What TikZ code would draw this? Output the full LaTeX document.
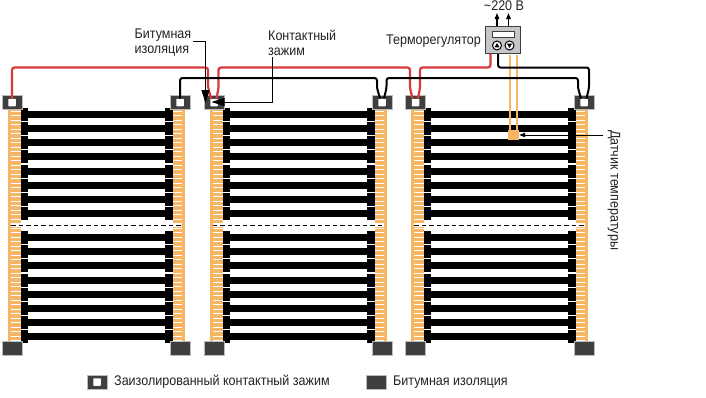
\documentclass[tikz,border=0pt]{standalone}
\usepackage{fontspec}
\setmainfont[FakeStretch=0.895]{Liberation Sans}
\usetikzlibrary{arrows.meta}
\definecolor{stripc}{HTML}{F6B663}
\definecolor{redw}{HTML}{D8393C}
\definecolor{darkc}{HTML}{3F3F3F}
\definecolor{edgec}{HTML}{BDBDBD}
\definecolor{txt}{HTML}{222222}
\tikzset{
  conn/.style={draw=edgec,line width=.7pt,fill=darkc,minimum width=20pt,minimum height=14pt,inner sep=0pt,outer sep=0pt},
  hole/.style={fill=white,draw=none,minimum width=7.5pt,minimum height=7.5pt,inner sep=0pt,outer sep=0pt,rounded corners=.6pt},
  redwire/.style={draw=redw,line width=2.2pt,rounded corners=2.5pt},
  blackwire/.style={draw=black,line width=2pt,rounded corners=2.5pt},
  leader/.style={draw=black,line width=1pt},
  lab/.style={text=txt,font=\fontsize{14}{15}\selectfont,inner sep=0pt,align=left},
  sensorline/.style={draw=stripc,line width=2pt},
  bigtip/.style={-{Triangle[length=13pt,width=8pt]}},
  smalltip/.style={-{Triangle[length=6pt,width=4.5pt]}},
}
\begin{document}
\begin{tikzpicture}[x=1pt,y=-1pt]
\useasboundingbox (0,0) rectangle (706,397);
% heating panels
\foreach \off in {0,201.5,403}{
  \begin{scope}[xshift=\off pt]
    \foreach \yy in {111,125.1,139.3,153.4,167.6,181.7,195.9,210,234,248.2,262.4,276.6,290.8,305,319.1,333.3}{
      \fill[black] (21,\yy) rectangle (170,\yy+7);
      \fill[black] (21,\yy-3) rectangle (28,\yy+10);
      \fill[black] (165,\yy-3) rectangle (173,\yy+10);
    }
    \fill[stripc] (8,108) rectangle (21,342);
    \fill[stripc] (173,108) rectangle (185,342);
    \foreach \n in {0,...,51}{
      \draw[white,line width=1pt] (11,111+\n*4.5) -- (21,111+\n*4.5);
      \draw[white,line width=1pt] (173,111+\n*4.5) -- (182,111+\n*4.5);
    }
    \fill[white] (11,223) rectangle (21,227);
    \fill[white] (173,223) rectangle (182,227);
    \draw[black,line width=.8pt,dash pattern=on 4.5pt off 3pt] (11,225) -- (183,225);
  \end{scope}
}
% connector blocks, top row
\node[conn] (ta) at (12.3,102.5) {};
\node[conn] (tb) at (180.5,102.5) {};
\node[conn] (tc) at (214,102.5) {};
\node[conn] (td) at (382,102.5) {};
\node[conn] (te) at (415.5,102.5) {};
\node[conn] (tf) at (584,102.5) {};
\node[hole] (ha) at (12,102.5) {};
\node[hole] (hb) at (180,102.5) {};
\node[hole] (hc) at (214,102.5) {};
\node[hole] (hd) at (382,102.5) {};
\node[hole] (he) at (415.5,102.5) {};
\node[hole] (hf) at (584,102.5) {};
% connector blocks, bottom row
\node[conn] (ba) at (12.3,348) {};
\node[conn] (bb) at (180.5,348) {};
\node[conn] (bc) at (214,348) {};
\node[conn] (bd) at (382,348) {};
\node[conn] (be) at (415.5,348) {};
\node[conn] (bf) at (584,348) {};
% thermostat
\node[draw=darkc,line width=1.2pt,fill=gray!45,minimum width=35pt,minimum height=27.5pt,inner sep=0pt] (th) at (503,40) {};
\node[draw=darkc,line width=1pt,fill=white,minimum width=22pt,minimum height=6pt,inner sep=0pt] (disp) at (503.5,34) {};
\node[draw=black,line width=1pt,fill=white,circle,minimum size=9pt,inner sep=0pt] (bu) at (497,45.5) {};
\node[draw=black,line width=1pt,fill=white,circle,minimum size=9pt,inner sep=0pt] (bv) at (509.5,45.5) {};
\fill[black] (494.5,47.3) -- (499.5,47.3) -- (497,43) -- cycle;
\fill[black] (507,43.7) -- (512,43.7) -- (509.5,48) -- cycle;
% sensor
\coordinate (s1t) at (510,54.6);
\coordinate (s2t) at (517.3,54.6);
\coordinate (s1b) at (510,130);
\coordinate (s2b) at (517.3,130);
\draw[sensorline] (s1t) -- (s1b);
\draw[sensorline] (s2t) -- (s2b);
\node[fill=stripc,minimum width=11pt,minimum height=10pt,inner sep=0pt] (sens) at (513.5,135) {};
% wires
\coordinate (outa) at (497,26);
\coordinate (outb) at (508.5,26);
\coordinate (outat) at (497,13);
\coordinate (outbt) at (508.5,13);
\draw[black,line width=1.2pt,smalltip] (outa) -- (outat);
\draw[black,line width=1.2pt,smalltip] (outb) -- (outbt);
\draw[redwire] (12,98.5) -- (12,67.5) -- (208,67.5) -- (208,87) -- (211,98.5);
\draw[redwire] (216.5,98.5) -- (218.5,88) -- (218.5,67.5) -- (410,67.5) -- (410,88) -- (412.5,98.5);
\draw[redwire] (418,98.5) -- (420,88) -- (420,67.5) -- (490.5,67.5) -- (490.5,54);
\draw[blackwire] (180,98.5) -- (180,78) -- (377,78) -- (377,88) -- (380,98.5);
\draw[blackwire] (384,98.5) -- (386.5,88) -- (386.5,78) -- (578,78) -- (578,88) -- (581,98.5);
\draw[blackwire] (498,54) -- (498,67.5) -- (589,67.5) -- (589,88) -- (586.5,98.5);
% leaders
\coordinate (l1) at (193,41);
\coordinate (l2) at (205.5,41);
\coordinate (l3) at (205.5,103);
\draw[leader,bigtip] (l1) -- (l2) -- (l3);
\coordinate (k1) at (272,57);
\coordinate (k2) at (272,102);
\coordinate (k3) at (211.5,102);
\draw[leader,bigtip] (k1) -- (k2) -- (k3);
\coordinate (d1) at (603,135);
\draw[leader,smalltip] (d1) -- (sens.east);
% labels
\node[lab,anchor=west] (t1) at (134.5,43) {Битумная\\изоляция};
\node[lab,anchor=west] (t2) at (268,42.5) {Контактный\\зажим};
\node[lab,anchor=west] (t3) at (386,41) {Терморегулятор};
\node[lab,anchor=base] (t4) at (504,10) {\char"7E 220 В};
\node[lab,anchor=center,rotate=-90] (t5) at (614,190) {Датчик температуры};
% legend
\node[conn] (la) at (97,382) {};
\node[hole] (lh) at (97,382) {};
\node[lab,anchor=west] (t6) at (114,382) {Заизолированный контактный зажим};
\node[conn] (lb) at (376,382) {};
\node[lab,anchor=west] (t7) at (393,382) {Битумная изоляция};
\end{tikzpicture}
\end{document}
